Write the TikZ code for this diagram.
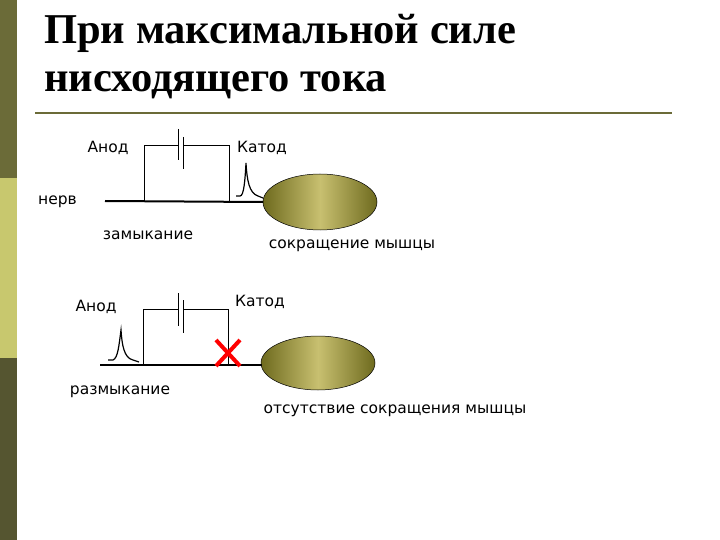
\documentclass[tikz,border=0pt]{standalone}
\usepackage{fontspec}
\setmainfont{Liberation Serif}
\newfontfamily\lab{DejaVu Sans}
\definecolor{bar1}{HTML}{6B6B38}
\definecolor{bar2}{HTML}{C8C86E}
\definecolor{bar3}{HTML}{555530}
\definecolor{mdark}{HTML}{6E6A1E}
\definecolor{mlight}{HTML}{C8C070}
\begin{document}
\begin{tikzpicture}[x=1pt,y=-1pt,
  lbl/.style={font=\lab\fontsize{15.5}{18}\selectfont,inner sep=0pt},
  ttl/.style={font=\bfseries\fontsize{42.5}{46}\selectfont,inner sep=0pt,anchor=west},
  wire/.style={line width=0.6pt},
  nerve/.style={line width=2pt},
  muscle/.style={draw=black,line width=0.5pt,left color=mdark,right color=mdark,middle color=mlight},
  spike/.style={line width=1.2pt}]
\useasboundingbox (0,0) rectangle (720,540);
\fill[white] (0,0) rectangle (720,540);
\fill[bar1] (0,0) rectangle (17,178);
\fill[bar2] (0,178) rectangle (17,358);
\fill[bar3] (0,358) rectangle (17,540);
\node[ttl] (t1) at (44,33) {При максимальной силе};
\node[ttl] (t2) at (44,85) {нисходящего тока};
\coordinate (u1) at (35,113); \coordinate (u2) at (672,113);
\draw[line width=1.5pt,bar1] (u1) -- (u2);
% top circuit
\node[lbl] (a1) at (108,148) {Анод};
\node[lbl] (k1) at (262,148) {Катод};
\node[lbl,anchor=west] (n1) at (38,202) {нерв};
\node[lbl] (z1) at (148,235) {замыкание};
\node[lbl] (s1) at (352,246) {сокращение мышцы};
\shade[muscle] (320,202) ellipse [x radius=57,y radius=28];
\coordinate (m1) at (263,202);
\coordinate (p1) at (105,201);
\draw[nerve] (p1) -- (m1);
\draw[wire] (144,201) -- (144,145) -- (178,145) (183,145) -- (229,145) -- (229,201);
\draw[wire] (178,129) -- (178,160) (183,137) -- (183,169);
\draw[spike] (236,196) -- (240,196) .. controls (244,196) and (245,180) .. (246,163) .. controls (247,180) and (249,193) .. (258,196) -- (263,198);
% bottom circuit
\node[lbl] (a2) at (96,307) {Анод};
\node[lbl] (k2) at (260,302) {Катод};
\node[lbl] (r2) at (120,392) {размыкание};
\node[lbl] (o2) at (395,411) {отсутствие сокращения мышцы};
\shade[muscle] (318,363) ellipse [x radius=57,y radius=27];
\coordinate (p2) at (100,365); \coordinate (m2) at (262,365);
\draw[nerve] (p2) -- (m2);
\draw[wire] (143,365) -- (143,309) -- (178,309) (183,309) -- (228,309) -- (228,365);
\draw[wire] (178,293) -- (178,326) (183,300) -- (183,333);
\draw[spike] (108,360) -- (113,360) .. controls (118,358) and (119,345) .. (121,330) .. controls (122,345) and (124,358) .. (133,360) -- (139,362);
\draw[red,line width=4pt] (216,340) -- (240,366) (240,340) -- (216,366);
\end{tikzpicture}
\end{document}
